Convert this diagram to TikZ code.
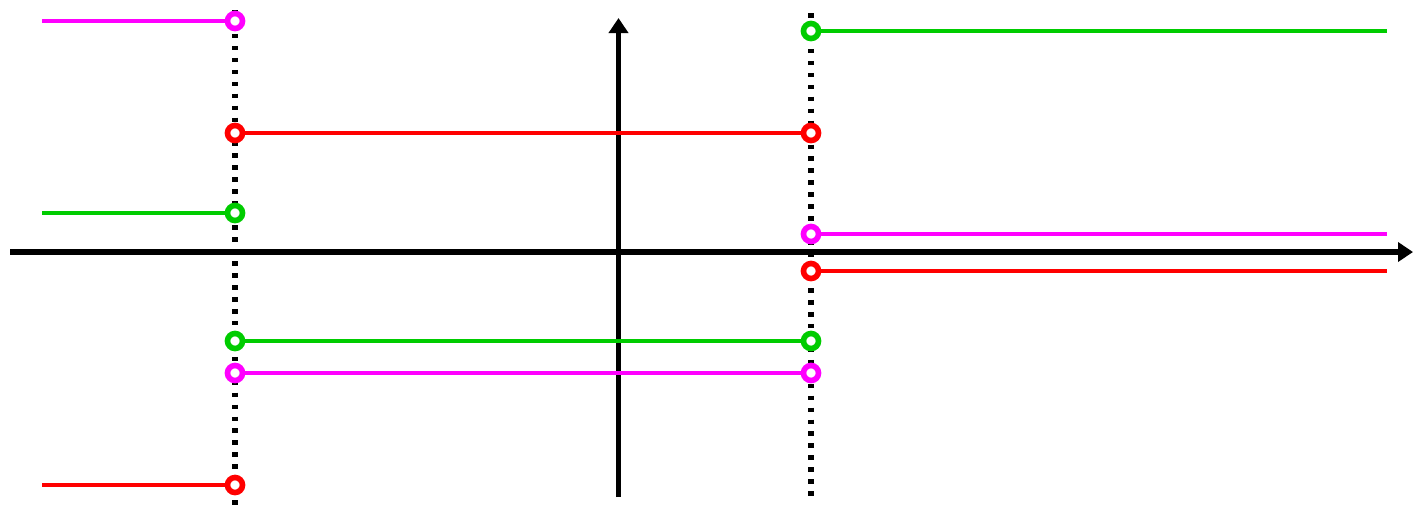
\documentclass[tikz,border=0pt]{standalone}
\usepackage{xcolor}
\usetikzlibrary{arrows.meta}

\definecolor{pmag}{RGB}{255,0,255}
\definecolor{pgreen}{RGB}{0,204,0}
\definecolor{pred}{RGB}{255,0,0}

\begin{document}
\begin{tikzpicture}[
    x=0.01cm, y=-0.01cm,
    axis/.style={line width=1.45pt, -{Triangle[length=0.15cm, width=0.19cm]}},
    jump/.style={line width=1.45pt, dash pattern=on 1.3pt off 2.1pt},
    seg/.style={line width=1.4pt},
    hole/.style={circle, draw=#1, fill=white, line width=1.6pt, inner sep=0pt,
                 minimum size=0.15cm},
]
\useasboundingbox (0,0) rectangle (1413,505);

% jump lines
\coordinate (ja1) at (235,10);
\coordinate (ja2) at (235,505);
\coordinate (jb1) at (811,13);
\coordinate (jb2) at (811,497);
\draw[jump] (ja1) -- (ja2);
\draw[jump] (jb1) -- (jb2);

% axes
\coordinate (xs) at (10,252);
\coordinate (xe) at (1413,252);
\coordinate (ys) at (618.5,497);
\coordinate (ye) at (618.5,18);
\draw[axis] (xs) -- (xe);
\draw[axis] (ys) -- (ye);

% open end points
\node[hole=pmag]   (lm) at (235,21)  {};
\node[hole=pgreen] (lg) at (235,213) {};
\node[hole=pred]   (lr) at (235,485) {};
\node[hole=pred]   (mr1) at (235,133) {};
\node[hole=pred]   (mr2) at (811,133) {};
\node[hole=pgreen] (mg1) at (235,341) {};
\node[hole=pgreen] (mg2) at (811,341) {};
\node[hole=pmag]   (mm1) at (235,373) {};
\node[hole=pmag]   (mm2) at (811,373) {};
\node[hole=pgreen] (rg) at (811,31)  {};
\node[hole=pmag]   (rm) at (811,234) {};
\node[hole=pred]   (rr) at (811,271) {};

% free ends
\coordinate (lm0) at (42,21);
\coordinate (lg0) at (42,213);
\coordinate (lr0) at (42,485);
\coordinate (rg0) at (1387,31);
\coordinate (rm0) at (1387,234);
\coordinate (rr0) at (1387,271);

% left pieces
\draw[seg, pmag]   (lm0) -- (lm);
\draw[seg, pgreen] (lg0) -- (lg);
\draw[seg, pred]   (lr0) -- (lr);

% middle pieces
\draw[seg, pred]   (mr1) -- (mr2);
\draw[seg, pgreen] (mg1) -- (mg2);
\draw[seg, pmag]   (mm1) -- (mm2);

% right pieces
\draw[seg, pgreen] (rg) -- (rg0);
\draw[seg, pmag]   (rm) -- (rm0);
\draw[seg, pred]   (rr) -- (rr0);

\end{tikzpicture}
\end{document}
